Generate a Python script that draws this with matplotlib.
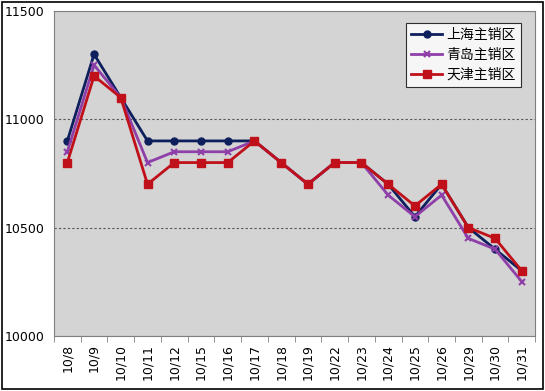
import matplotlib
matplotlib.use("Agg")
import matplotlib.pyplot as plt
import numpy as np

plt.rcParams['font.family'] = ['Noto Sans CJK SC', 'DejaVu Sans']

dates = ["10/8", "10/9", "10/10", "10/11", "10/12", "10/15", "10/16", "10/17", "10/18",
         "10/19", "10/22", "10/23", "10/24", "10/25", "10/26", "10/29", "10/30", "10/31"]
shanghai = [10900, 11300, 11100, 10900, 10900, 10900, 10900, 10900, 10800,
            10700, 10800, 10800, 10700, 10550, 10700, 10500, 10400, 10300]
qingdao = [10850, 11250, 11100, 10800, 10850, 10850, 10850, 10900, 10800,
           10700, 10800, 10800, 10650, 10550, 10650, 10450, 10400, 10250]
tianjin = [10800, 11200, 11100, 10700, 10800, 10800, 10800, 10900, 10800,
           10700, 10800, 10800, 10700, 10600, 10700, 10500, 10450, 10300]
names = ["上海主销区", "青岛主销区", "天津主销区"]

fig = plt.figure(figsize=(5.45, 3.91), dpi=100)
ax = fig.add_axes([0.099, 0.141, 0.883, 0.831])
ax.set_facecolor("#d4d4d4")
x = np.arange(len(dates))

ax.plot(x, shanghai, color="#0d1f5c", marker="o", ms=5, lw=2, label=names[0], zorder=3)
ax.plot(x, qingdao, color="#8e3fa8", marker="x", ms=5, mew=1.5, lw=2, label=names[1], zorder=4)
ax.plot(x, tianjin, color="#c0101a", marker="s", ms=6, lw=2, label=names[2], zorder=5)

ax.set_xlim(-0.5, len(dates) - 0.5)
ax.set_ylim(10000, 11500)
ax.set_yticks([10000, 10500, 11000, 11500])
ax.set_yticklabels(["10000", "10500", "11000", "11500"], family="DejaVu Sans")
ax.tick_params(axis="y", length=0, pad=7, labelsize=9)
ax.set_xticks(x)
ax.set_xticklabels(dates, rotation=90, fontsize=9, family="DejaVu Sans")
ax.tick_params(axis="x", which="major", length=0, pad=6)
ax.set_xticks(np.arange(-0.5, len(dates)), minor=True)
ax.tick_params(axis="x", which="minor", length=4, direction="out", color="#808080")
ax.grid(axis="y", ls=(0, (2, 2)), color="#555555", lw=0.8)
ax.set_axisbelow(True)
for s in ax.spines.values():
    s.set_color("#808080")

leg = ax.legend(loc="upper right", fontsize=10, frameon=True, fancybox=False,
                edgecolor="black", handlelength=2.2, borderpad=0.4,
                labelspacing=0.4, handletextpad=0.3, bbox_to_anchor=(0.985, 0.985))
leg.get_frame().set_linewidth(0.8)

fig.patches.append(plt.Rectangle((0.003, 0.004), 0.994, 0.992, transform=fig.transFigure,
                                 fill=False, edgecolor="black", lw=1.2))
fig.savefig("out.png", dpi=100)
